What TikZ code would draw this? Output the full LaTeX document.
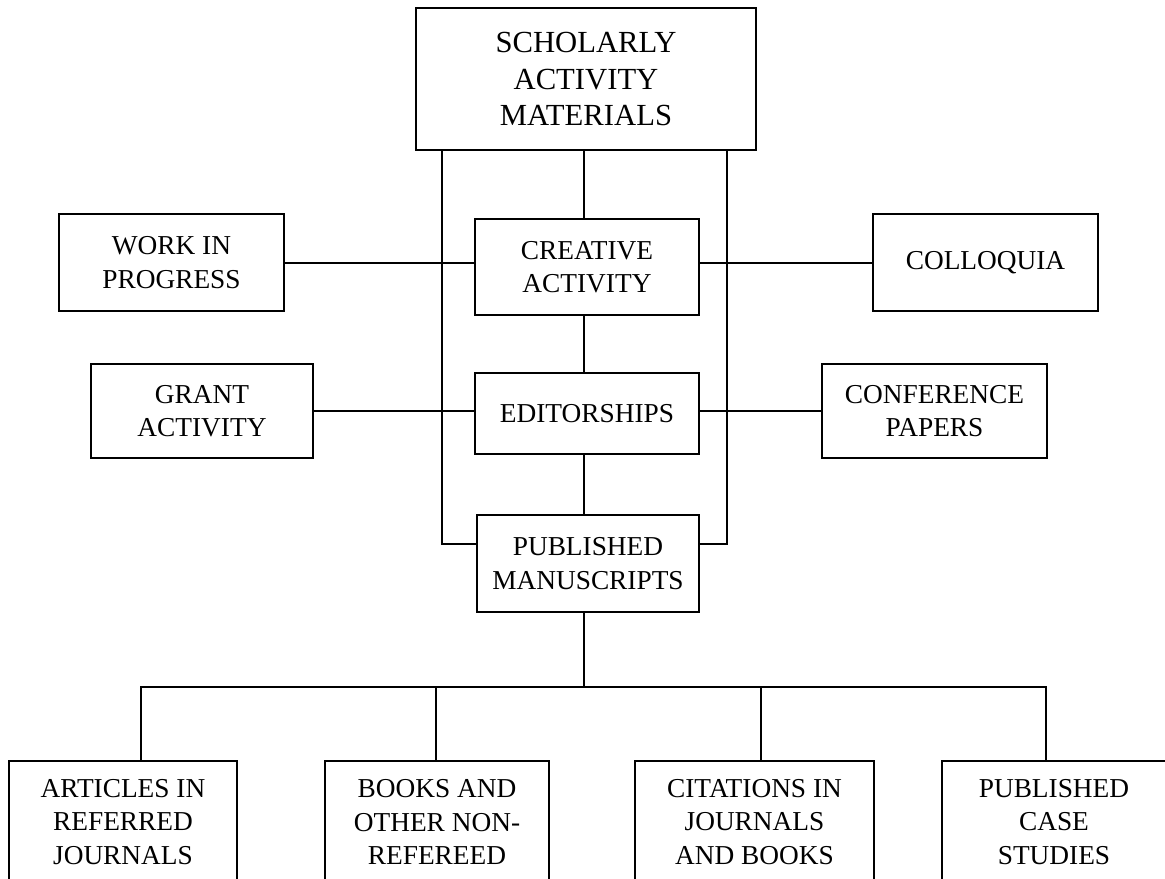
\documentclass[tikz,border=0pt]{standalone}
\usepackage{fontspec}
\setmainfont{Liberation Serif}
\usetikzlibrary{calc}
\begin{document}
\begin{tikzpicture}[x=0.75pt,y=-0.75pt,
  box/.style={draw,line width=1.6pt,align=center,inner sep=0pt,
    font=\fontsize{20.5}{25}\selectfont},
  bigbox/.style={box,font=\fontsize{23}{27.5}\selectfont},
  sz/.style 2 args={minimum width=#1*0.75pt,minimum height=#2*0.75pt},
  link/.style={line width=1.5pt}]
\useasboundingbox (0,0) rectangle (1165,879);
\clip (0,0) rectangle (1165,879);

% central column
\node[bigbox,sz={340}{142}] (top) at (586,79) {SCHOLARLY\\ACTIVITY\\MATERIALS};
\node[box,sz={224}{96}] (creative) at (587,267) {CREATIVE\\ACTIVITY};
\node[box,sz={224}{81}] (edit) at (587,413.5) {EDITORSHIPS};
\node[box,sz={222}{97}] (pub) at (588,563.5) {PUBLISHED\\MANUSCRIPTS};

% side boxes
\node[box,sz={225}{97}] (work) at (171.5,262.5) {WORK IN\\PROGRESS};
\node[box,sz={225}{97}] (colloq) at (985.5,262.5) {COLLOQUIA};
\node[box,sz={222}{94}] (grant) at (202,411) {GRANT\\ACTIVITY};
\node[box,sz={225}{94}] (conf) at (934.5,411) {CONFERENCE\\PAPERS};

% bottom row
\node[box,sz={228}{122}] (b1) at (123,822) {ARTICLES IN\\REFERRED\\JOURNALS};
\node[box,sz={224}{122}] (b2) at (437,822) {BOOKS AND\\OTHER NON-\\REFEREED};
\node[box,sz={239}{122}] (b3) at (754.5,822) {CITATIONS IN\\JOURNALS\\AND BOOKS};
\node[box,sz={224}{122}] (b4) at (1054,822) {PUBLISHED\\CASE\\STUDIES};

\coordinate (bus) at (584,687);

% spine
\draw[link] (top.south -| bus) -- (creative.north -| bus);
\draw[link] (creative.south -| bus) -- (edit.north -| bus);
\draw[link] (edit.south -| bus) -- (pub.north -| bus);
\draw[link] (pub.south -| bus) -- (bus);

% outer rails from the top box to the manuscripts box
\draw[link] ($(top.south west)!0.079!(top.south east)$) |- ($(pub.north west)!0.3!(pub.south west)$);
\draw[link] ($(top.south west)!0.912!(top.south east)$) |- ($(pub.north east)!0.3!(pub.south east)$);

% side branches
\draw[link] (work.east) -- (work.east -| creative.west);
\draw[link] (colloq.west) -- (colloq.west -| creative.east);
\draw[link] (grant.east) -- (grant.east -| edit.west);
\draw[link] (conf.west) -- (conf.west -| edit.east);

% distribution bus to the bottom row
\draw[link] (bus) -| ($(b1.north west)!0.579!(b1.north east)$);
\draw[link] (bus) -| ($(b2.north west)!0.496!(b2.north east)$);
\draw[link] (bus) -| ($(b3.north west)!0.527!(b3.north east)$);
\draw[link] (bus) -| ($(b4.north west)!0.464!(b4.north east)$);
\end{tikzpicture}
\end{document}
